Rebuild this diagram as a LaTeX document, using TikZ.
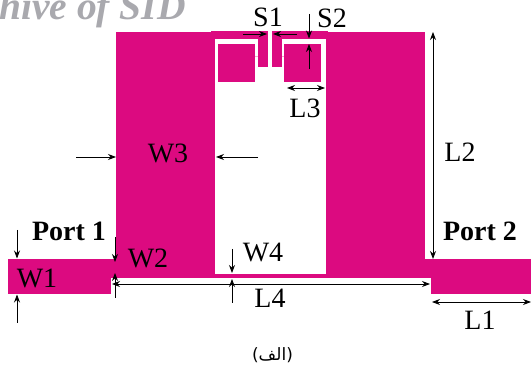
\documentclass[tikz,border=0pt]{standalone}
\usepackage{fontspec}
\setmainfont{Liberation Serif}
\newfontfamily\arabicfont[Script=Arabic]{DejaVu Sans}
\newfontfamily\capsans{DejaVu Sans}
\TeXXeTstate=1
\usetikzlibrary{arrows.meta}
\definecolor{patch}{HTML}{DC0A80}
\definecolor{mark}{HTML}{A9A9AE}
\tikzset{
  metal/.style={fill=patch,draw=none},
  gap/.style={fill=white,draw=none},
  dim/.style={draw=black,line width=0.9pt,-{Stealth[length=8pt,width=6pt]}},
  dimboth/.style={draw=black,line width=0.9pt,{Stealth[length=8pt,width=6pt]}-{Stealth[length=8pt,width=6pt]}},
  lab/.style={inner sep=0pt,font=\fontsize{28}{28}\selectfont},
  port/.style={inner sep=0pt,font=\fontsize{28}{28}\selectfont\bfseries},
}
\begin{document}
\begin{tikzpicture}[x=1pt,y=-1pt]
\path[use as bounding box,clip] (0,0) rectangle (531,374);
\fill[white] (0,0) rectangle (531,374);
% watermark
\node[anchor=base east,inner sep=0pt,text=mark,font=\fontsize{39.5}{39.5}\selectfont\bfseries\itshape] (wm) at (186,20) {hive of SID};
% metal
\path[metal] (116,32) rectangle (425,278);
\path[metal] (211,31) rectangle (328,36);
\path[metal] (8,259) rectangle (111,294);
\path[metal] (111,259) rectangle (116,278);
\path[metal] (425,259) rectangle (431,278);
\path[metal] (431,259) rectangle (531,294);
\path[gap] (215,39) rectangle (326,274);
\path[metal] (218,44) rectangle (255,82);
\path[metal] (284,44) rectangle (321,82);
\path[metal] (258,36) rectangle (268,67);
\path[metal] (272,36) rectangle (282,67);
\path[gap] (268,30) rectangle (272,39);
\path[fill=patch!35] (255,56.5) rectangle (258,57.5);
\path[fill=patch!35] (282,56.5) rectangle (284,57.5);
% labels
\node[lab] (s1) at (268,17) {S1};
\node[lab] (s2) at (332,18) {S2};
\node[lab] (l3) at (305,108) {L3};
\node[lab] (w3) at (168,153) {W3};
\node[lab] (l2) at (460,152) {L2};
\node[port] (p1) at (69,231) {Port 1};
\node[port] (p2) at (480,231) {Port 2};
\node[lab] (w1) at (37,278) {W1};
\node[lab] (w2) at (148,258) {W2};
\node[lab] (w4) at (263,252) {W4};
\node[lab] (l4) at (270,298) {L4};
\node[lab] (l1) at (480,320) {L1};
\node[inner sep=0pt,font=\fontsize{17}{17}\selectfont] (cap) at (272.5,355) {\capsans(\arabicfont\beginR الف\endR\capsans)};
% dimension end points
\coordinate (s1a) at (243,34); \coordinate (s1b) at (267,34);
\coordinate (s1c) at (297,34); \coordinate (s1d) at (273,34);
\coordinate (s2a) at (309,14); \coordinate (s2b) at (309,38.5);
\coordinate (s2c) at (309,69); \coordinate (s2d) at (309,44);
\coordinate (l3a) at (287,88); \coordinate (l3b) at (325,88);
\coordinate (w3a) at (76,157); \coordinate (w3b) at (116,157);
\coordinate (w3c) at (258,157); \coordinate (w3d) at (216,157);
\coordinate (l2a) at (433,32); \coordinate (l2b) at (433,259);
\coordinate (w1a) at (17,230); \coordinate (w1b) at (17,258.5);
\coordinate (w1c) at (17,323); \coordinate (w1d) at (17,294.5);
\coordinate (w2a) at (115,237); \coordinate (w2b) at (115,262);
\coordinate (w2c) at (115,298); \coordinate (w2d) at (115,273);
\coordinate (l4a) at (112,284); \coordinate (l4b) at (430,284);
\coordinate (w4a) at (232,249); \coordinate (w4b) at (232,273);
\coordinate (w4c) at (232,303); \coordinate (w4d) at (232,279);
\coordinate (l1a) at (432,302); \coordinate (l1b) at (531,302);
% dimensions
\draw[dim] (s1a) -- (s1b);
\draw[dim] (s1c) -- (s1d);
\draw[dim] (s2a) -- (s2b);
\draw[dim] (s2c) -- (s2d);
\draw[dimboth] (l3a) -- (l3b);
\draw[dim] (w3a) -- (w3b);
\draw[dim] (w3c) -- (w3d);
\draw[dimboth] (l2a) -- (l2b);
\draw[dim] (w1a) -- (w1b);
\draw[dim] (w1c) -- (w1d);
\draw[dim] (w2a) -- (w2b);
\draw[dim] (w2c) -- (w2d);
\draw[dimboth] (l4a) -- (l4b);
\draw[dim] (w4a) -- (w4b);
\draw[dim] (w4c) -- (w4d);
\draw[dimboth] (l1a) -- (l1b);
\end{tikzpicture}
\end{document}
